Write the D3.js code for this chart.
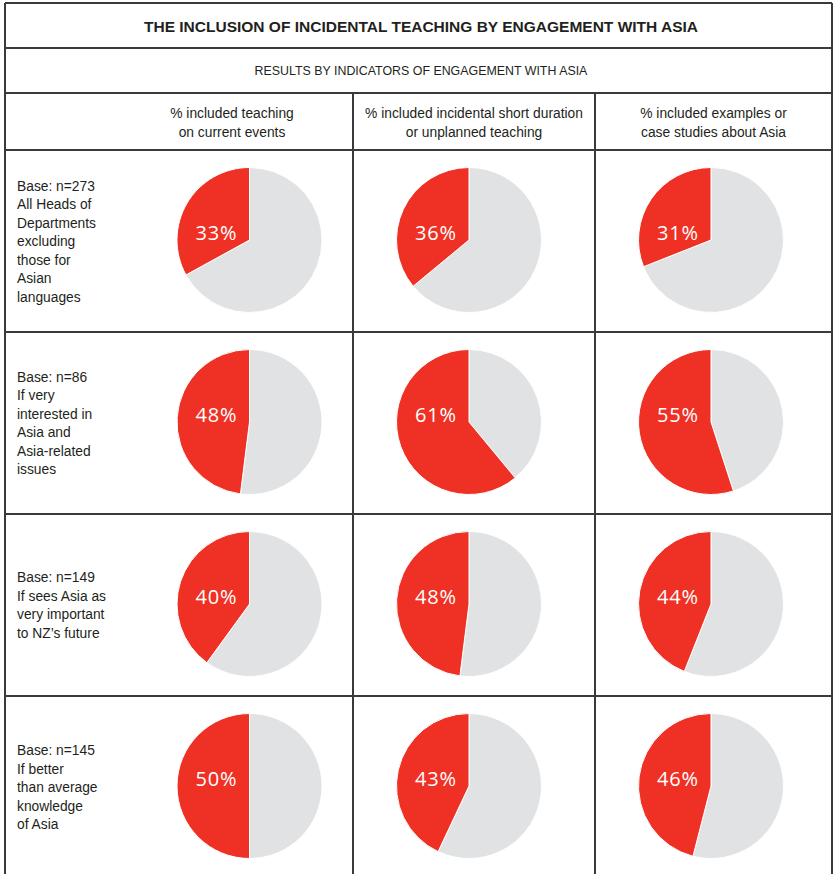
<!DOCTYPE html>
<html>
<head>
<meta charset="utf-8">
<script src="https://cdn.jsdelivr.net/npm/d3@7/dist/d3.min.js"></script>
<style>
  html, body { margin: 0; padding: 0; background: #ffffff; }
  svg { display: block; }
  text { font-family: "Liberation Sans", Arial, sans-serif; fill: #231f20; }
</style>
</head>
<body>
<script>
// Chart text
const title = "THE INCLUSION OF INCIDENTAL TEACHING BY ENGAGEMENT WITH ASIA";
const subtitle = "RESULTS BY INDICATORS OF ENGAGEMENT WITH ASIA";

// Column headers (one entry per pie column, split into lines)
const columnHeaders = [
  ["% included teaching", "on current events"],
  ["% included incidental short duration", "or unplanned teaching"],
  ["% included examples or", "case studies about Asia"]
];

// Row labels (base and group description)
const rowLabels = [
  ["Base: n=273", "All Heads of", "Departments", "excluding", "those for", "Asian", "languages"],
  ["Base: n=86", "If very", "interested in", "Asia and", "Asia-related", "issues"],
  ["Base: n=149", "If sees Asia as", "very important", "to NZ\u2019s future"],
  ["Base: n=145", "If better", "than average", "knowledge", "of Asia"]
];

// Percentages per column, one value per row
const currentEvents = [33, 48, 40, 50];
const incidentalTeaching = [36, 61, 48, 43];
const asiaExamples = [31, 55, 44, 46];
const seriesByColumn = [currentEvents, incidentalTeaching, asiaExamples];

// ---- layout ----
const W = 833, H = 874;
const left = 5, right = 832;
const hTitle = [3, 48], hSub = [48, 93], hHead = [93, 150];
const rowH = 182;
const colEdges = [111, 353, 595, 832];       // label column | three pie columns
const pieCx = [249.5, 469, 711];             // pie centres within each column
const radius = 72.5;
const red = "#ee3124", grey = "#e1e2e3", lineColor = "#3a3a3a";

const svg = d3.select("body").append("svg")
  .attr("width", W).attr("height", H);

const rowTops = rowLabels.map((_, i) => hHead[1] + i * rowH);

// grid lines
const grid = svg.append("g").attr("stroke", lineColor).attr("stroke-width", 1.3)
  .attr("shape-rendering", "crispEdges");
[hTitle[0], hTitle[1], hSub[1], hHead[1], ...rowTops.slice(1)].forEach(y => {
  grid.append("line").attr("x1", left).attr("x2", right).attr("y1", y).attr("y2", y);
});
grid.append("line").attr("x1", left).attr("x2", left).attr("y1", hTitle[0]).attr("y2", H);
grid.append("line").attr("x1", right).attr("x2", right).attr("y1", hTitle[0]).attr("y2", H);
[colEdges[1], colEdges[2]].forEach(x => {
  grid.append("line").attr("x1", x).attr("x2", x).attr("y1", hHead[0]).attr("y2", H);
});

// title and subtitle
svg.append("text")
  .attr("x", 421).attr("y", 32)
  .attr("text-anchor", "middle")
  .style("font-weight", "bold").style("font-size", "15.5px")
  .text(title);

svg.append("text")
  .attr("x", 421).attr("y", 75)
  .attr("text-anchor", "middle")
  .style("font-size", "12.4px")
  .text(subtitle);

// column headers
columnHeaders.forEach((lines, c) => {
  const cx = (colEdges[c] + colEdges[c + 1]) / 2;
  const t = svg.append("text").attr("text-anchor", "middle").style("font-size", "13.8px");
  lines.forEach((ln, k) => {
    t.append("tspan").attr("x", cx).attr("y", 118 + k * 18.5).text(ln);
  });
});

// row labels
const lineH = 18.5;
rowLabels.forEach((lines, r) => {
  const cy = rowTops[r] + 90;
  const first = cy + 6 - (lines.length - 1) * lineH / 2;
  const t = svg.append("text").style("font-size", "13.8px");
  lines.forEach((ln, k) => {
    t.append("tspan").attr("x", 17).attr("y", first + k * lineH).text(ln);
  });
});

// pies: grey remainder first (clockwise from 12 o'clock), red share closes the circle
const pie = d3.pie().sort(null).value(d => d.v);
const arc = d3.arc().innerRadius(0).outerRadius(radius);

seriesByColumn.forEach((values, c) => {
  values.forEach((v, r) => {
    const cx = pieCx[c], cy = rowTops[r] + 90;
    const g = svg.append("g").attr("transform", `translate(${cx},${cy})`);
    const slices = pie([{ key: "rest", v: 100 - v }, { key: "included", v: v }]);
    g.selectAll("path").data(slices).join("path")
      .attr("d", arc)
      .attr("fill", d => d.data.key === "included" ? red : grey)
      .attr("stroke", "#ffffff").attr("stroke-width", 1);
    g.append("text")
      .attr("x", -33).attr("y", 0)
      .attr("text-anchor", "middle")
      .style("font-family", "'Open Sans', 'Noto Sans', sans-serif")
      .style("font-size", "20px")
      .style("letter-spacing", "0.8px")
      .style("fill", "#ffffff")
      .text(v + "%");
  });
});
</script>
</body>
</html>
